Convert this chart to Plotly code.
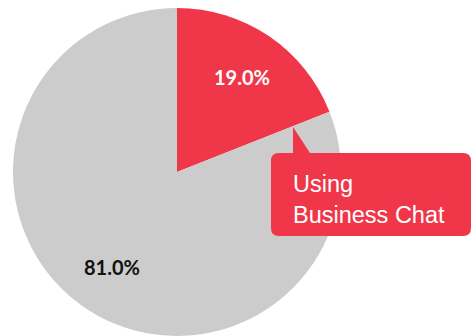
import math
import plotly.graph_objects as go

labels = ["Using Business Chat", "Not using Business Chat"]
values = [19.0, 81.0]
colors = ["#EF3749", "#CCCCCC"]
label_colors = ["white", "#111111"]
callout_text = "Using<br>Business Chat"

W, H = 473, 336
CX, CY, R = 177, 172, 164


def px(x):
    return x / W


def py(y):
    return 1 - y / H


fig = go.Figure(go.Pie(
    labels=labels,
    values=values,
    marker=dict(colors=colors, line=dict(width=0)),
    sort=False,
    direction="clockwise",
    rotation=0,
    textinfo="none",
    hoverinfo="label+percent",
    showlegend=False,
    domain=dict(x=[px(CX - R), px(CX + R)], y=[0, py(CY - R)]),
))

# percentage labels placed along each slice's mid-angle
annotations = []
total = sum(values)
cum = 0
for v, c in zip(values, label_colors):
    mid = (cum + v / 2) / total * 2 * math.pi
    cum += v
    rr = 0.7 * R
    x = CX + rr * math.sin(mid)
    y = CY - rr * math.cos(mid)
    annotations.append(dict(
        x=px(x), y=py(y), xref="paper", yref="paper",
        text=f"<b>{v / total * 100:.1f}%</b>", showarrow=False,
        font=dict(family="Lato", size=20, color=c),
        xanchor="center", yanchor="middle",
    ))

# callout bubble
bx0, by0, bx1, by1, rad = 271, 153, 471, 236, 8
tip = (293, 127)
tb = (310, 153)


def P(x, y):
    return f"{px(x):.5f},{py(y):.5f}"


path = (
    f"M {P(bx0 + rad, by0)} L {P(tip[0], by0)} L {P(*tip)} L {P(*tb)} "
    f"L {P(bx1 - rad, by0)} Q {P(bx1, by0)} {P(bx1, by0 + rad)} "
    f"L {P(bx1, by1 - rad)} Q {P(bx1, by1)} {P(bx1 - rad, by1)} "
    f"L {P(bx0 + rad, by1)} Q {P(bx0, by1)} {P(bx0, by1 - rad)} "
    f"L {P(bx0, by0 + rad)} Q {P(bx0, by0)} {P(bx0 + rad, by0)} Z"
)

fig.add_shape(type="path", path=path, xref="paper", yref="paper",
              fillcolor=colors[0], line=dict(width=0), layer="above")

annotations.append(dict(
    x=px(291), y=py(199), xref="paper", yref="paper",
    text=callout_text, showarrow=False, align="left",
    xanchor="left", yanchor="middle",
    font=dict(family="Liberation Sans, Arial", size=23.5, color="white"),
))

fig.update_layout(
    width=W, height=H,
    margin=dict(l=0, r=0, t=0, b=0),
    paper_bgcolor="white", plot_bgcolor="white",
    annotations=annotations,
)

fig.write_html("out.html", config=dict(displayModeBar=False))
